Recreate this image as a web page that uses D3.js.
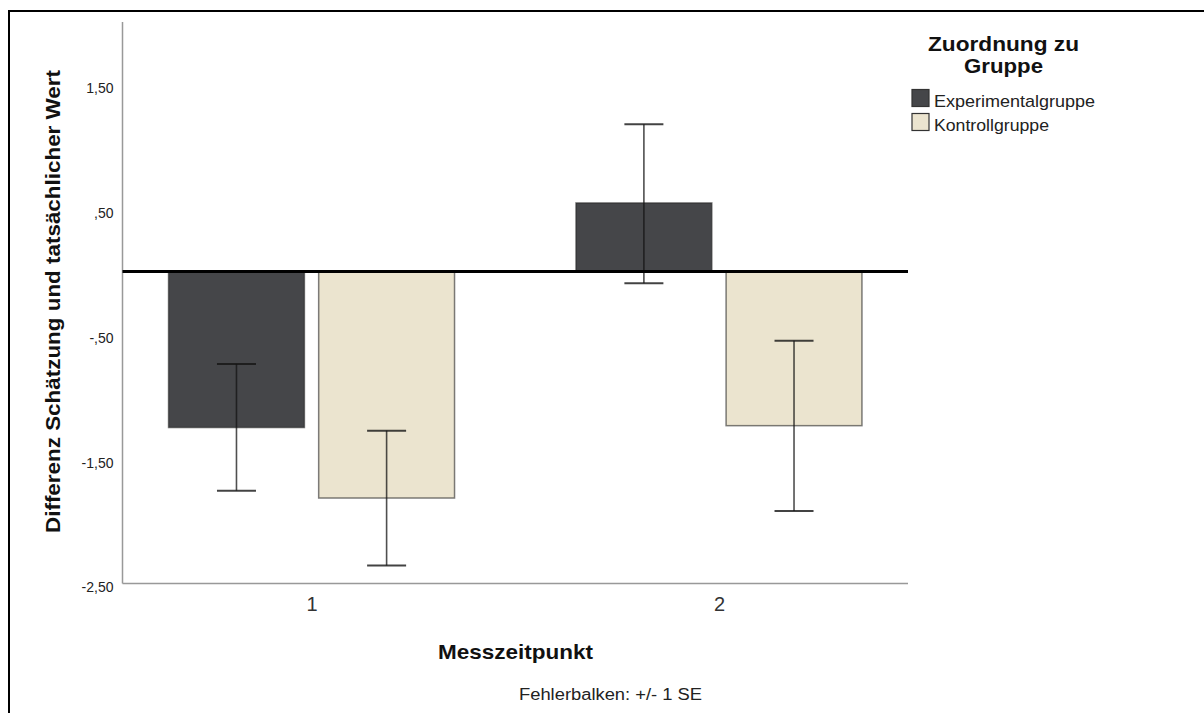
<!DOCTYPE html>
<html>
<head>
<meta charset="utf-8">
<script src="https://cdnjs.cloudflare.com/ajax/libs/d3/7.8.5/d3.min.js"></script>
<style>
  body { margin: 0; background: #fff; }
  svg { display: block; font-family: "Liberation Sans", Arial, sans-serif; }
</style>
</head>
<body>
<svg id="chart" width="1204" height="713"></svg>
<script>
// data
var zeitpunkte = ["1", "2"];
var gruppen = ["Experimentalgruppe", "Kontrollgruppe"];
var mittelExp = [-1.25, 0.55];
var mittelKon = [-1.815, -1.235];
var seObenExp = [-0.74, 1.18];
var seUntenExp = [-1.756, -0.094];
var seObenKon = [-1.275, -0.555];
var seUntenKon = [-2.356, -1.919];
var yTicks = [1.5, 0.5, -0.5, -1.5, -2.5];
var farben = ["#454649", "#ebe4cf"];

var rows = [];
zeitpunkte.forEach(function(z, i) {
    rows.push({zeit: z, gruppe: gruppen[0], mean: mittelExp[i], hi: seObenExp[i], lo: seUntenExp[i]});
    rows.push({zeit: z, gruppe: gruppen[1], mean: mittelKon[i], hi: seObenKon[i], lo: seUntenKon[i]});
});

var svg = d3.select("#chart");

// frame (top + left only visible)
svg.append("line").attr("x1", 9).attr("x2", 1204).attr("y1", 11).attr("y2", 11)
    .attr("stroke", "#000").attr("stroke-width", 2);
svg.append("line").attr("x1", 9).attr("x2", 9).attr("y1", 10).attr("y2", 713)
    .attr("stroke", "#000").attr("stroke-width", 2);

var plotL = 122.5, plotR = 908, plotT = 22, plotB = 583.5;

var y = d3.scaleLinear().domain([-2.5, 2.0]).range([plotB, plotT]);
var x = d3.scalePoint().domain(zeitpunkte).range([plotL, plotR]).padding(0.464);
var xs = d3.scaleBand().domain(gruppen).range([-143, 143]).paddingInner(0.095);

var fmt = function(d) {
    var s = d3.format(".2f")(d).replace(".", ",").replace("−", "-");
    return s.replace(/^(-?)0,/, "$1,");
};

// y axis
var yAxis = svg.append("g").attr("transform", "translate(" + plotL + ",0)")
    .call(d3.axisLeft(y).tickValues(yTicks).tickSize(0).tickPadding(9).tickFormat(fmt));
yAxis.select(".domain").attr("stroke", "#999").attr("stroke-width", 1.5)
    .attr("d", "M0," + plotT + "V" + plotB);
yAxis.selectAll("text").attr("font-size", 14).attr("fill", "#222")
    .attr("font-family", "Liberation Sans, Arial, sans-serif").attr("dy", "0.6em");

// x axis
var xAxis = svg.append("g").attr("transform", "translate(0," + plotB + ")")
    .call(d3.axisBottom(x).tickSize(0).tickPadding(13));
xAxis.select(".domain").attr("stroke", "#999").attr("stroke-width", 1.5)
    .attr("d", "M" + plotL + ",0H" + plotR);
xAxis.selectAll("text").attr("font-size", 20).attr("fill", "#333")
    .attr("font-family", "Liberation Sans, Arial, sans-serif");

// bars
svg.append("g").selectAll("rect").data(rows).enter().append("rect")
    .attr("x", function(d) { return x(d.zeit) + xs(d.gruppe); })
    .attr("width", xs.bandwidth())
    .attr("y", function(d) { return y(Math.max(0, d.mean)); })
    .attr("height", function(d) { return Math.abs(y(d.mean) - y(0)); })
    .attr("fill", function(d) { return farben[gruppen.indexOf(d.gruppe)]; })
    .attr("stroke", "rgba(40,40,40,0.6)").attr("stroke-width", 1.5);

// error bars
var eb = svg.append("g").selectAll("g").data(rows).enter().append("g")
    .attr("transform", function(d) { return "translate(" + (x(d.zeit) + xs(d.gruppe) + xs.bandwidth() / 2) + ",0)"; });
eb.append("line").attr("x1", 0).attr("x2", 0)
    .attr("y1", function(d) { return y(d.hi); }).attr("y2", function(d) { return y(d.lo); })
    .attr("stroke", "rgba(20,20,20,0.75)").attr("stroke-width", 1.6);
eb.selectAll(".cap").data(function(d) { return [d.hi, d.lo]; }).enter().append("line")
    .attr("x1", -19.5).attr("x2", 19.5)
    .attr("y1", function(v) { return y(v); }).attr("y2", function(v) { return y(v); })
    .attr("stroke", "rgba(20,20,20,0.8)").attr("stroke-width", 2);

// zero reference line
svg.append("line").attr("x1", plotL).attr("x2", plotR).attr("y1", y(0)).attr("y2", y(0))
    .attr("stroke", "#000").attr("stroke-width", 3);

// axis titles
svg.append("text").attr("transform", "translate(60,301.5) rotate(-90)")
    .attr("text-anchor", "middle").attr("font-size", 21).attr("font-weight", "bold")
    .attr("fill", "#111").attr("textLength", 463).attr("lengthAdjust", "spacingAndGlyphs")
    .text("Differenz Schätzung und tatsächlicher Wert");
svg.append("text").attr("x", 515.5).attr("y", 659).attr("text-anchor", "middle")
    .attr("font-size", 21).attr("font-weight", "bold").attr("fill", "#111")
    .attr("textLength", 155).attr("lengthAdjust", "spacingAndGlyphs").text("Messzeitpunkt");
svg.append("text").attr("x", 610.5).attr("y", 700).attr("text-anchor", "middle")
    .attr("font-size", 16).attr("fill", "#222")
    .attr("textLength", 183).attr("lengthAdjust", "spacingAndGlyphs").text("Fehlerbalken: +/- 1 SE");

// legend
var lg = svg.append("g");
lg.append("text").attr("x", 1003.5).attr("y", 51).attr("text-anchor", "middle")
    .attr("font-size", 21).attr("font-weight", "bold").attr("fill", "#111")
    .attr("textLength", 151).attr("lengthAdjust", "spacingAndGlyphs").text("Zuordnung zu");
lg.append("text").attr("x", 1003.5).attr("y", 73).attr("text-anchor", "middle")
    .attr("font-size", 21).attr("font-weight", "bold").attr("fill", "#111")
    .attr("textLength", 79).attr("lengthAdjust", "spacingAndGlyphs").text("Gruppe");
var legendLen = [161, 115];
var li = lg.selectAll(".item").data(gruppen).enter().append("g")
    .attr("transform", function(d, i) { return "translate(912," + (89.5 + i * 24) + ")"; });
li.append("rect").attr("width", 17).attr("height", 17)
    .attr("fill", function(d, i) { return farben[i]; })
    .attr("stroke", "#333").attr("stroke-width", 1.2);
li.append("text").attr("x", 22).attr("y", 17.5).attr("font-size", 17).attr("fill", "#222")
    .attr("textLength", function(d, i) { return legendLen[i]; }).attr("lengthAdjust", "spacingAndGlyphs")
    .text(function(d) { return d; });
</script>
</body>
</html>
